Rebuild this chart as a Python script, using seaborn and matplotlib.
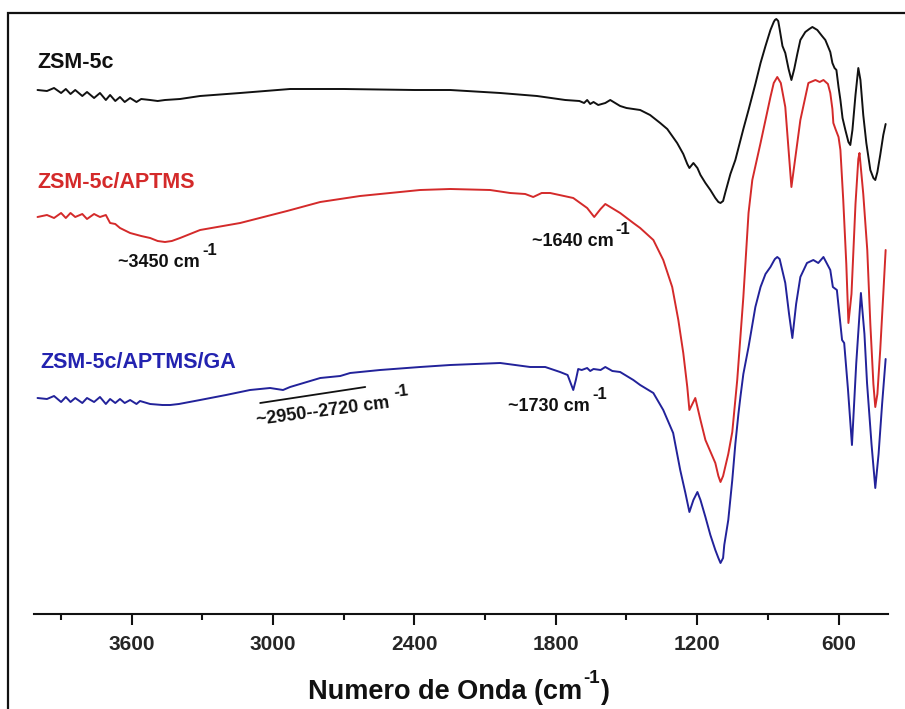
import matplotlib
matplotlib.use("Agg")
import matplotlib.pyplot as plt
from matplotlib.patches import Rectangle
import seaborn as sns
import pandas as pd

# ---------------- data ----------------
labels = ["ZSM-5c", "ZSM-5c/APTMS", "ZSM-5c/APTMS/GA"]

wn_black = [4000, 3960, 3930, 3900, 3880, 3860, 3840, 3810, 3790, 3760, 3735, 3710, 3692,
            3670, 3650, 3630, 3607, 3580, 3560, 3522, 3490, 3459, 3395, 3310, 3140, 2928, 2700,
            2400, 2248, 2036, 1880, 1760, 1700, 1680, 1667, 1654, 1640, 1620, 1590, 1569,
            1527, 1500, 1442, 1400, 1357, 1327, 1285, 1259, 1242, 1233, 1216, 1199, 1186,
            1165, 1144, 1123, 1110, 1101, 1090, 1080, 1059, 1038, 1004, 982, 953, 931, 910, 889, 875,
            870, 864, 856, 850, 838, 826, 812, 800, 788, 775, 762, 741, 724, 711, 690, 670, 656, 635,
            626, 617, 609, 600, 592, 583, 571, 558, 550, 541, 528, 516, 507, 495, 482, 465,
            452, 444, 435, 423, 410, 400]
t_black = [524, 523, 526, 521, 525, 520, 524, 518, 522, 516, 521, 514, 519,
           513, 517, 512, 516, 512, 515, 514, 513, 514, 515, 518, 521, 525, 525,
           524, 524, 521, 518, 514, 513, 511, 514, 510, 512, 509, 511, 514,
           508, 506, 504, 499, 491, 485, 471, 460, 450, 446, 451, 446, 439,
           431, 424, 416, 412, 411, 413, 422, 440, 454, 485, 504, 530, 551, 568, 584, 592,
           594, 595, 593, 585, 568, 561, 545, 534, 545, 560, 574, 582, 585, 587, 584, 578, 574, 562,
           551, 546, 544, 527, 514, 496, 484, 472, 469, 484, 519, 546, 534, 499, 471, 444,
           436, 434, 442, 459, 479, 490]

wn_red = [4000, 3960, 3930, 3900, 3880, 3860, 3840, 3810, 3790, 3760, 3735, 3710, 3692,
          3670, 3650, 3607, 3560, 3522, 3490, 3459, 3430, 3395, 3310, 3140, 2941, 2800, 2631, 2376,
          2248, 2079, 1994, 1930, 1896, 1860, 1824, 1726, 1667, 1637, 1610, 1590, 1527,
          1471, 1442, 1386, 1344, 1306, 1280, 1259, 1242, 1233, 1208, 1186, 1165, 1123,
          1110, 1101, 1090, 1068, 1051, 1030, 1004, 982, 966, 931, 889, 875, 860, 845, 826, 800, 762, 728,
          698, 680, 664, 645, 635, 626, 622, 613, 600, 592, 580, 567, 558, 545, 528, 516,
          511, 495, 478, 465, 452, 444, 435, 423, 410, 400]
t_red = [397, 399, 396, 401, 396, 401, 397, 400, 395, 400, 397, 399, 391,
         390, 386, 381, 378, 376, 373, 372, 373, 376, 384, 391, 403, 412, 418, 424,
         425, 424, 421, 420, 417, 421, 421, 416, 406, 397, 405, 410, 401,
         391, 386, 374, 354, 327, 294, 261, 227, 204, 216, 194, 174, 151,
         138, 132, 138, 160, 182, 234, 317, 401, 434, 471, 517, 531, 537, 531, 507, 427, 494, 531,
         534, 532, 534, 530, 521, 505, 491, 485, 477, 464, 414, 350, 291, 320, 410, 455,
         461, 420, 364, 290, 230, 207, 220, 264, 320, 364]

wn_blue = [4000, 3960, 3930, 3900, 3880, 3860, 3840, 3810, 3790, 3760, 3735, 3710, 3692,
           3670, 3650, 3630, 3607, 3580, 3565, 3522, 3470, 3437, 3400, 3310, 3200, 3098,
           3013, 2958, 2928, 2800, 2715, 2673, 2546, 2376, 2248, 2036, 1909, 1845, 1782,
           1750, 1726, 1715, 1705, 1690, 1667, 1654, 1640, 1610, 1590, 1560, 1527, 1471,
           1442, 1386, 1344, 1302, 1272, 1250, 1233, 1216, 1199, 1186, 1165, 1144, 1123,
           1110, 1101, 1090, 1085, 1068, 1051, 1038, 1025, 1016, 1004, 982, 953, 931, 910, 889, 875,
           870, 860, 850, 845, 826, 810, 796, 780, 762, 734, 707, 686, 664, 635, 624, 607, 585, 576,
           560, 543, 525, 505, 490, 479, 460, 444, 430, 415, 400]
t_blue = [216, 215, 218, 212, 217, 212, 216, 211, 216, 212, 217, 210, 215,
          211, 215, 211, 214, 210, 213, 210, 209, 209, 210, 214, 219, 224,
          226, 224, 227, 236, 238, 241, 244, 247, 249, 251, 247, 247, 242,
          239, 224, 234, 245, 244, 246, 243, 245, 244, 247, 243, 242, 234,
          229, 221, 204, 181, 144, 121, 102, 114, 122, 114, 97, 79, 64,
          56, 51, 56, 69, 94, 134, 170, 200, 218, 240, 267, 307, 327, 340, 347, 353,
          355, 357, 355, 350, 331, 300, 276, 310, 337, 351, 354, 351, 357, 344, 327, 324, 274, 271,
          225, 169, 250, 321, 280, 231, 170, 126, 160, 210, 255]

line_colors = ["#111111", "#d42a2a", "#22229a"]
text_colors = ["#111111", "#d42a2a", "#2323b0"]

x_ticks = [3600, 3000, 2400, 1800, 1200, 600]
x_minor = [3900, 3300, 2700, 2100, 1500, 900]
x_label_main = "Numero de Onda (cm"
x_label_close = ")"
sup_text = "-1"
band_texts = ["~3450 cm", "~1640 cm", "~1730 cm", "~2950--2720 cm"]

# ---------------- build long-form table ----------------
frames = []
for lab, wn, t in zip(labels, [wn_black, wn_red, wn_blue], [t_black, t_red, t_blue]):
    frames.append(pd.DataFrame({"wn": wn, "T": t, "sample": lab}))
df = pd.concat(frames, ignore_index=True)

# ---------------- style ----------------
sns.set_theme(style="white")
plt.rcParams["font.family"] = ["Liberation Sans", "DejaVu Sans"]
plt.rcParams["font.weight"] = "bold"

fig = plt.figure(figsize=(9.05, 7.09), dpi=100)
ax = fig.add_axes([34 / 905, 95 / 709, 854 / 905, 601 / 709])

sns.lineplot(data=df, x="wn", y="T", hue="sample", palette=dict(zip(labels, line_colors)),
             estimator=None, sort=False, legend=False, linewidth=1.4, ax=ax)

ax.set_xlim(4015, 390)
ax.set_ylim(0, 601)

for s in ["left", "right", "top"]:
    ax.spines[s].set_visible(False)
ax.spines["bottom"].set_linewidth(1.5)
ax.spines["bottom"].set_color("#111111")
ax.set_yticks([])
ax.set_ylabel("")
ax.set_xlabel("")
ax.set_xticks(x_ticks)
ax.set_xticks(x_minor, minor=True)
ax.set_xticklabels([str(v) for v in x_ticks])
ax.tick_params(axis="x", which="major", direction="out", length=8, width=1.5,
               color="#111111", pad=7, labelsize=15, bottom=True)
ax.tick_params(axis="x", which="minor", direction="out", length=4.5, width=1.5,
               color="#111111", bottom=True)
for lbl in ax.get_xticklabels():
    lbl.set_fontweight("bold")

# x-axis title with a raised "-1"
xl = fig.text(308 / 905, 10 / 709, x_label_main, fontsize=19.5, fontweight="bold",
              color="#111111", ha="left", va="baseline")
ax.annotate(sup_text, xy=(1, 1), xycoords=xl, xytext=(0.5, 0.5),
            textcoords="offset points", fontsize=13.5, fontweight="bold",
            color="#111111", ha="left", va="center", annotation_clip=False)
ax.annotate(x_label_close, xy=(1, 0), xycoords=xl, xytext=(13.5, 0),
            textcoords="offset points", fontsize=19.5, fontweight="bold",
            color="#111111", ha="left", va="bottom", annotation_clip=False)

# series labels
ax.text(4000, 552, labels[0], color=text_colors[0], fontsize=15.5, fontweight="bold",
        ha="left", va="center")
ax.text(4000, 432, labels[1], color=text_colors[1], fontsize=15.5, fontweight="bold",
        ha="left", va="center")
ax.text(3989, 252, labels[2], color=text_colors[2], fontsize=15.5, fontweight="bold",
        ha="left", va="center")


def band_label(x, y, txt, rot=0):
    t = ax.text(x, y, txt, color="#111111", fontsize=13, fontweight="bold",
                ha="left", va="baseline", rotation=rot, rotation_mode="anchor")
    ax.annotate(sup_text, xy=(1, 1), xycoords=t, xytext=(1.5, 2.5),
                textcoords="offset points", fontsize=12, fontweight="bold",
                color="#111111", ha="left", va="center", rotation=rot)
    return t


band_label(3658, 347, band_texts[0])
band_label(1902, 368, band_texts[1])
band_label(2002, 203, band_texts[2])
band_label(3069, 189, band_texts[3], rot=7.5)
ax.plot([3055, 2609], [211, 227], color="#111111", linewidth=1.3)

# outer frame (left and top visible, the rest runs off the canvas)
fig.patches.append(Rectangle((8 / 905, -0.1), 1.2, 1.1 - 13 / 709, transform=fig.transFigure,
                             fill=False, edgecolor="#111111", linewidth=1.6))

fig.savefig("out.png", dpi=100)
